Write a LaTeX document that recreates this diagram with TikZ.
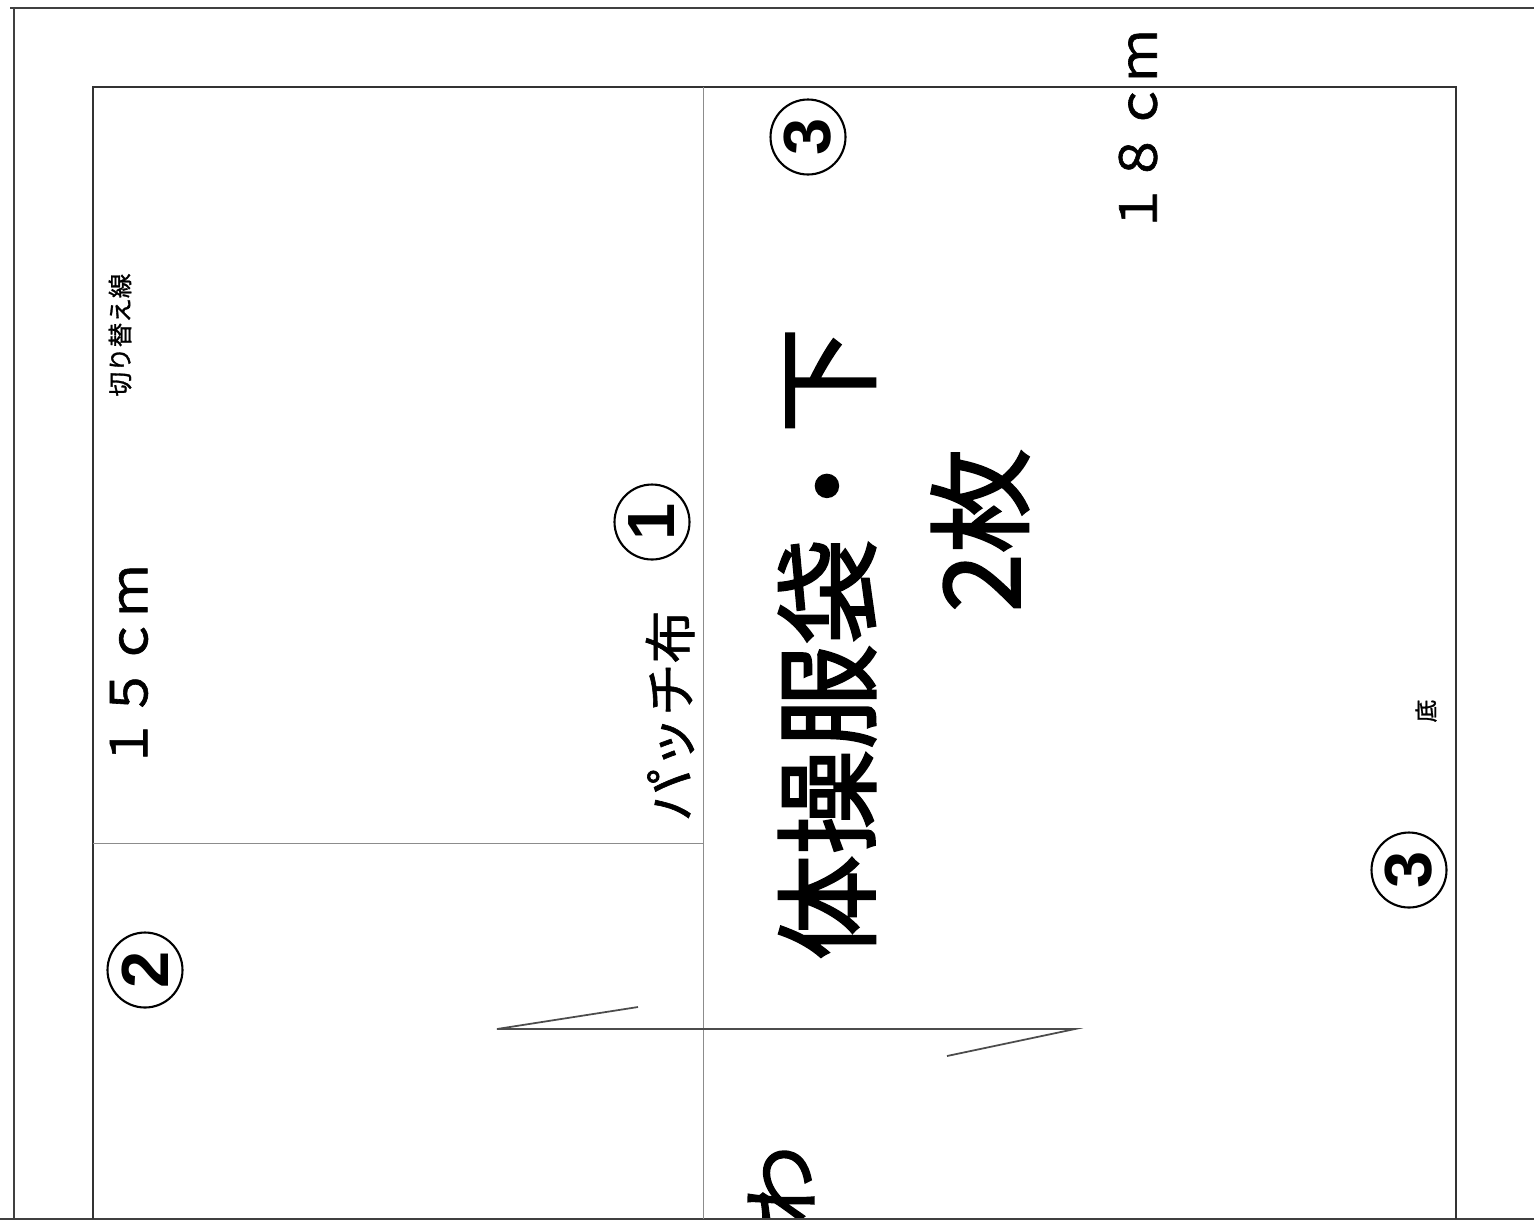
\documentclass[tikz,border=0pt]{standalone}
\usepackage{fontspec}
\setmainfont{Noto Sans CJK JP}
\newfontfamily\heavyfont[FakeBold=2]{Noto Sans CJK JP}
\newfontfamily\midfont[FakeBold=1.2]{Noto Sans CJK JP}
\newfontfamily\digitfont{Liberation Sans}

\begin{document}
\begin{tikzpicture}[x=0.02cm, y=-0.02cm,
    frame/.style={line width=1.4pt, draw=black!75},
    seam/.style={line width=1.1pt, draw=black!80},
    guide/.style={line width=0.5pt, draw=black!45},
    label/.style={rotate=90, inner sep=0pt},
    maru/.style={circle, draw, line width=1.2pt, minimum size=1.5cm, inner sep=0pt, rotate=90,
      font=\digitfont\bfseries\fontsize{38}{38}\selectfont}]

    \useasboundingbox (0,0) rectangle (1534,1225);

    % Paper frame
    \coordinate (tl) at (14, 8);
    \coordinate (bl) at (14, 1219);
    \draw[frame] (10, 8) -- (1534, 8);
    \draw[frame] (tl) -- (bl);
    \draw[frame] (0, 1219) -- (1534, 1219);

    % Pattern piece
    \coordinate (pa) at (93, 1219);
    \coordinate (pb) at (93, 87);
    \coordinate (pc) at (1456, 87);
    \coordinate (pd) at (1456, 1219);
    \draw[seam] (pa) -- (pb) -- (pc) -- (pd);

    \coordinate (mt) at (703, 87);
    \coordinate (mb) at (703, 1219);
    \draw[guide] (mt) -- (mb);
    \draw[guide] (93, 843) -- (703, 843);

    % Fold mark
    \coordinate (fa) at (638, 1007);
    \coordinate (fb) at (497, 1029);
    \coordinate (fc) at (1075, 1029);
    \coordinate (fd) at (947, 1056);
    \draw[line width=1pt, draw=black!70] (fa) -- (fb) -- (fc) -- (fd);

    % Labels
    \node[label, font=\midfont\fontsize{14}{14}\selectfont] (cutline) at (120, 335) {切り替え線};
    \node[label, font=\midfont\fontsize{29}{29}\selectfont] (width15) at (129, 667) {１５ｃｍ};
    \node[label, font=\midfont\fontsize{29}{29}\selectfont] (width18) at (1138, 132) {１８ｃｍ};
    \node[label, font=\midfont\fontsize{30}{30}\selectfont] (patch) at (670, 716) {パッチ布};
    \node[label, font=\heavyfont\fontsize{60}{60}\selectfont] (title) at (827, 644) {体操服袋・下};
    \node[label, font=\heavyfont\fontsize{60}{60}\selectfont] (count) at (980, 530) {2枚};
    \node[label, font=\midfont\fontsize{13}{13}\selectfont] (bottom) at (1426, 711) {底};

    \begin{scope}
      \clip (0, 0) rectangle (1534, 1217);
      \node[label, font=\heavyfont\fontsize{45}{45}\selectfont] (fold) at (781, 1185) {わ};
    \end{scope}

    % Part numbers
    \node[maru] (one) at (652, 522) {1};
    \node[maru] (two) at (145, 970) {2};
    \node[maru] (three) at (808, 137) {3};
    \node[maru] (threeb) at (1409, 870) {3};

\end{tikzpicture}
\end{document}
